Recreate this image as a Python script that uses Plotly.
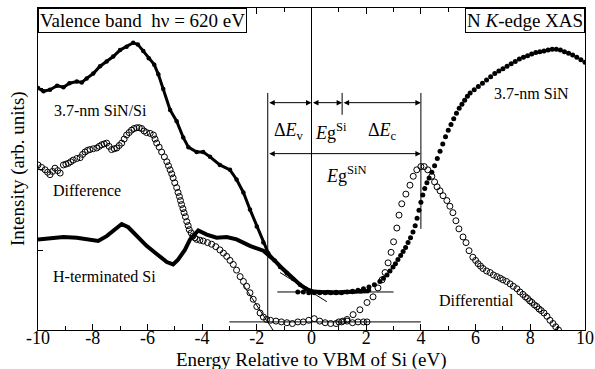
import plotly.graph_objects as go

FONT = "Liberation Serif, Times New Roman, serif"

# ---- Valence band: 3.7-nm SiN/Si (filled dots) ----
vb_sin_x = [-10, -9.8, -9.56, -9.3, -9.07, -8.85, -8.58, -8.4, -8.22, -7.98, -7.73, -7.49, -7.25, -7.0,
            -6.76, -6.52, -6.35, -6.15, -5.95, -5.75, -5.6, -5.42, -5.17, -4.93, -4.69, -4.5, -4.2, -3.96,
            -3.71, -3.35, -2.98, -2.74, -2.49, -2.25, -2.0, -1.76, -1.58, -1.35, -1.15, -0.9, -0.67, -0.42,
            -0.2, 0.0, 0.3, 0.6, 0.9, 1.2, 1.5, 1.8, 2.1]
vb_sin_y = [3.01, 2.97, 2.99, 3.04, 3.02, 3.07, 3.09, 3.08, 3.13, 3.19, 3.28, 3.34, 3.40, 3.48,
            3.52, 3.57, 3.55, 3.47, 3.38, 3.30, 3.18, 3.00, 2.74, 2.60, 2.40, 2.28, 2.22, 2.22,
            2.16, 2.06, 2.00, 1.88, 1.72, 1.51, 1.30, 1.10, 0.97, 0.88, 0.80, 0.72, 0.65, 0.58,
            0.53, 0.50, 0.49, 0.49, 0.49, 0.49, 0.49, 0.50, 0.51]

# ---- Valence band: H-terminated Si ----
vb_hsi_x = [-10, -9.56, -9.07, -8.58, -8.1, -7.8, -7.49, -7.18, -6.94, -6.7, -6.39, -6.03, -5.66, -5.29,
            -5.06, -4.88, -4.63, -4.44, -4.14, -3.83, -3.47, -3.1, -2.74, -2.25, -1.76, -1.58, -1.35,
            -1.15, -0.9, -0.67, -0.42, -0.2, 0.0, 0.3, 0.6, 0.9, 1.2, 1.5, 1.8, 2.1]
vb_hsi_y = [1.14, 1.16, 1.17, 1.16, 1.14, 1.12, 1.18, 1.26, 1.33, 1.29, 1.18, 1.06, 0.96, 0.86,
            0.83, 0.89, 1.01, 1.14, 1.25, 1.20, 1.16, 1.17, 1.14, 1.06, 1.00, 0.95, 0.88,
            0.81, 0.73, 0.66, 0.58, 0.53, 0.50, 0.49, 0.48, 0.48, 0.49, 0.49, 0.49, 0.50]

# ---- Difference spectrum (open circles) ----
diff_x = [-10.0, -9.87, -9.74, -9.65, -9.56, -9.47, -9.38, -9.28, -9.19, -9.07, -8.98, -8.89, -8.8, -8.71,
          -8.58, -8.46, -8.37, -8.28, -8.19, -8.1, -7.98, -7.85, -7.76, -7.67, -7.58, -7.49, -7.4, -7.31,
          -7.21, -7.12, -7.03, -6.94, -6.85, -6.76, -6.67, -6.58, -6.49, -6.39, -6.3, -6.21, -6.12, -6.03,
          -5.9, -5.78, -5.72, -5.66, -5.57, -5.48, -5.38, -5.29, -5.23, -5.17, -5.11, -5.06, -5.0, -4.93,
          -4.88, -4.83, -4.79, -4.75, -4.7, -4.66, -4.61, -4.56, -4.51, -4.47, -4.4, -4.34, -4.27, -4.2,
          -4.08, -3.96, -3.8, -3.65, -3.5, -3.35, -3.22, -3.1, -2.98, -2.86, -2.74, -2.61, -2.49, -2.37,
          -2.25, -2.13, -2.0, -1.88, -1.76, -1.64, -1.5, -1.3, -1.1, -0.9, -0.7, -0.5, -0.3, -0.1,
          0.1, 0.3, 0.5, 0.7, 0.9, 1.1, 1.3, 1.5, 1.7, 1.9, 2.03]
diff_y = [2.06, 2.03, 2.00, 1.97, 1.94, 1.98, 2.02, 1.99, 1.96, 2.06, 2.07, 2.08, 2.10, 2.12,
          2.14, 2.15, 2.19, 2.22, 2.24, 2.25, 2.26, 2.27, 2.29, 2.31, 2.32, 2.33, 2.29, 2.25,
          2.26, 2.27, 2.30, 2.33, 2.38, 2.43, 2.46, 2.49, 2.51, 2.52, 2.52, 2.51, 2.48, 2.46,
          2.45, 2.43, 2.38, 2.33, 2.28, 2.22, 2.16, 2.10, 2.05, 2.00, 1.95, 1.90, 1.84, 1.78,
          1.72, 1.67, 1.62, 1.57, 1.52, 1.47, 1.42, 1.36, 1.31, 1.26, 1.22, 1.18, 1.16, 1.14,
          1.13, 1.12, 1.10, 1.08, 1.05, 1.01, 0.97, 0.93, 0.88, 0.83, 0.76, 0.68, 0.62, 0.56,
          0.48, 0.40, 0.31, 0.23, 0.18, 0.15, 0.14, 0.13, 0.12, 0.11, 0.10, 0.12, 0.12, 0.14,
          0.16, 0.13, 0.11, 0.10, 0.10, 0.12, 0.13, 0.11, 0.12, 0.12, 0.12]

# ---- N K-edge XAS: 3.7-nm SiN (filled dots) ----
xas_x = [-0.5, -0.3, -0.1, 0.1, 0.3, 0.5, 0.7, 0.9, 1.1, 1.3, 1.5, 1.7, 1.9, 2.1, 2.3, 2.5, 2.63, 2.76,
         2.87, 2.98, 3.07, 3.16, 3.26, 3.35, 3.44, 3.53, 3.62, 3.71, 3.79, 3.86, 3.93, 4.0, 4.07, 4.14,
         4.22, 4.3, 4.4, 4.5, 4.6, 4.7, 4.8, 4.9, 5.0, 5.1, 5.2, 5.3, 5.4, 5.5, 5.6, 5.7, 5.8, 5.95,
         6.1, 6.25, 6.4, 6.55, 6.7, 6.85, 7.0, 7.15, 7.3, 7.45, 7.6, 7.75, 7.9, 8.05, 8.2, 8.35, 8.5,
         8.65, 8.8, 8.95, 9.1, 9.25, 9.4, 9.55, 9.7, 9.85, 10.0]
xas_y = [0.49, 0.49, 0.48, 0.48, 0.48, 0.48, 0.48, 0.48, 0.48, 0.49, 0.50, 0.51, 0.53, 0.55, 0.58, 0.62,
         0.66, 0.70, 0.75, 0.80, 0.84, 0.89, 0.94, 0.99, 1.04, 1.10, 1.16, 1.23, 1.31, 1.40, 1.50, 1.60,
         1.69, 1.77, 1.84, 1.90, 1.97, 2.05, 2.14, 2.23, 2.32, 2.41, 2.49, 2.56, 2.63, 2.70, 2.76, 2.81,
         2.86, 2.91, 2.95, 2.99, 3.03, 3.07, 3.11, 3.15, 3.19, 3.22, 3.25, 3.28, 3.31, 3.34, 3.37, 3.39,
         3.41, 3.43, 3.45, 3.46, 3.47, 3.48, 3.49, 3.49, 3.48, 3.46, 3.44, 3.42, 3.39, 3.36, 3.33]

# ---- Differential of XAS (open circles) ----
dxas_x = [1.0, 1.15, 1.3, 1.52, 1.77, 2.03, 2.25, 2.43, 2.58, 2.69, 2.8, 2.91, 3.0, 3.12, 3.2, 3.3,
          3.45, 3.6, 3.72, 3.85, 4.0, 4.12, 4.25, 4.4, 4.5, 4.59, 4.7, 4.81, 4.95, 5.06, 5.17, 5.28,
          5.39, 5.54, 5.65, 5.76, 5.9, 6.0, 6.09, 6.18, 6.27, 6.4, 6.53, 6.65, 6.78, 6.9, 7.0, 7.13,
          7.26, 7.38, 7.51, 7.62, 7.73, 7.82, 7.9, 7.98, 8.06, 8.15, 8.24, 8.32, 8.4, 8.5, 8.61, 8.72,
          8.83, 8.93, 9.03]
dxas_y = [0.12, 0.13, 0.15, 0.21, 0.27, 0.36, 0.43, 0.54, 0.64, 0.73, 0.85, 0.98, 1.11, 1.28, 1.44, 1.58,
          1.70, 1.81, 1.92, 2.00, 2.04, 2.04, 2.00, 1.92, 1.85, 1.79, 1.74, 1.68, 1.62, 1.55, 1.47, 1.37,
          1.27, 1.17, 1.10, 1.00, 0.92, 0.88, 0.84, 0.81, 0.78, 0.75, 0.73, 0.70, 0.68, 0.66, 0.64, 0.62,
          0.59, 0.56, 0.53, 0.49, 0.46, 0.43, 0.41, 0.38, 0.36, 0.33, 0.31, 0.28, 0.26, 0.23, 0.19, 0.14,
          0.10, 0.06, 0.02]

# ---- Band-edge construction ----
upper_base_x = [-1.25, 3.0]
upper_base_y = [0.49, 0.49]
lower_base_x = [-3.0, 4.0]
lower_base_y = [0.12, 0.12]
tangent_si_x = [-1.15, 0.56]
tangent_si_y = [0.73, 0.37]
tangent_sin_x = [-2.5, -1.37]
tangent_sin_y = [0.58, 0.0]

E_vbm_sin, E_vbm_si, E_cbm_si, E_cbm_sin = -1.6, 0.0, 1.12, 4.0
arrow_row1_y = 2.83
arrow_row2_y = 2.20
vline_top = 2.95

x_ticks = [-10, -8, -6, -4, -2, 0, 2, 4, 6, 8, 10]

fig = go.Figure()

fig.add_trace(go.Scatter(x=diff_x, y=diff_y, mode="markers",
                         marker=dict(symbol="circle-open", size=6, color="black", line=dict(width=1)),
                         showlegend=False))
fig.add_trace(go.Scatter(x=dxas_x, y=dxas_y, mode="markers",
                         marker=dict(symbol="circle-open", size=6, color="black", line=dict(width=1)),
                         showlegend=False))
fig.add_trace(go.Scatter(x=vb_hsi_x, y=vb_hsi_y, mode="lines",
                         line=dict(color="black", width=4), showlegend=False))
fig.add_trace(go.Scatter(x=vb_sin_x, y=vb_sin_y, mode="lines+markers",
                         line=dict(color="black", width=3), marker=dict(size=4.5, color="black"),
                         showlegend=False))
fig.add_trace(go.Scatter(x=xas_x, y=xas_y, mode="markers",
                         marker=dict(size=5, color="black"), showlegend=False))

# construction lines
for lx, ly in [(upper_base_x, upper_base_y), (lower_base_x, lower_base_y),
               (tangent_si_x, tangent_si_y), (tangent_sin_x, tangent_sin_y)]:
    fig.add_trace(go.Scatter(x=lx, y=ly, mode="lines", line=dict(color="black", width=1),
                             showlegend=False))

# vertical lines
vlines = [(E_vbm_sin, lower_base_y[0], vline_top), (E_vbm_si, 0, 4.0),
          (E_cbm_si, 2.68, vline_top), (E_cbm_sin, 1.27, vline_top)]
for vx, y0, y1 in vlines:
    fig.add_shape(type="line", x0=vx, x1=vx, y0=y0, y1=y1, xref="x", yref="y",
                  line=dict(color="black", width=1))

annos = []
# double-headed arrows
for (xa, xb, yy) in [(E_vbm_sin, E_vbm_si, arrow_row1_y), (E_vbm_si, E_cbm_si, arrow_row1_y),
                     (E_cbm_si, E_cbm_sin, arrow_row1_y), (E_vbm_sin, E_cbm_sin, arrow_row2_y)]:
    annos.append(dict(x=xb, y=yy, ax=xa, ay=yy, xref="x", yref="y", axref="x", ayref="y",
                      text="", showarrow=True, arrowhead=2, arrowside="end+start",
                      arrowsize=1.1, arrowwidth=1, arrowcolor="black", standoff=0, startstandoff=0))

lab_font = dict(family=FONT, size=18, color="black")
annos += [
    dict(x=-0.82, y=2.47, text="Δ<i>E</i><sub>v</sub>", showarrow=False, font=lab_font),
    dict(x=0.72, y=2.47, text="<i>E</i>g<sup>Si</sup>", showarrow=False, font=lab_font),
    dict(x=2.58, y=2.47, text="Δ<i>E</i><sub>c</sub>", showarrow=False, font=lab_font),
    dict(x=1.28, y=1.94, text="<i>E</i>g<sup>SiN</sup>", showarrow=False, font=lab_font),
]
small = dict(family=FONT, size=16, color="black")
annos += [
    dict(x=-9.5, y=2.73, text="3.7-nm SiN/Si", xanchor="left", showarrow=False, font=small),
    dict(x=-9.54, y=1.74, text="Difference", xanchor="left", showarrow=False, font=small),
    dict(x=-9.54, y=0.68, text="H-terminated Si", xanchor="left", showarrow=False, font=small),
    dict(x=6.6, y=2.94, text="3.7-nm SiN", xanchor="left", showarrow=False, font=small),
    dict(x=4.59, y=0.38, text="Differential", xanchor="left", showarrow=False, font=small),
]
box_font = dict(family=FONT, size=19, color="black")
annos += [
    dict(x=0, y=1, xref="paper", yref="paper", xanchor="left", yanchor="top",
         text="Valence band\u00a0 hν = 620 eV", showarrow=False, font=box_font,
         bordercolor="black", borderwidth=1, borderpad=1, bgcolor="white"),
    dict(x=1, y=1, xref="paper", yref="paper", xanchor="right", yanchor="top",
         text="N <i>K</i>-edge XAS", showarrow=False, font=box_font,
         bordercolor="black", borderwidth=1, borderpad=1, bgcolor="white"),
]
# axis titles
annos += [
    dict(x=0.5, y=0, xref="paper", yref="paper", xanchor="center", yanchor="top", yshift=-17,
         text="Energy Relative to VBM of Si (eV)", showarrow=False,
         font=dict(family=FONT, size=19, color="black")),
    dict(x=0, y=0.5, xref="paper", yref="paper", xanchor="center", yanchor="middle", xshift=-20,
         text="Intensity (arb. units)", textangle=-90, showarrow=False,
         font=dict(family=FONT, size=19, color="black")),
]

fig.update_layout(
    width=595, height=369,
    margin=dict(l=38, r=10, t=8, b=39),
    paper_bgcolor="white", plot_bgcolor="white",
    font=dict(family=FONT, size=18, color="black"),
    annotations=annos,
    xaxis=dict(range=[-10, 10], tickvals=x_ticks, ticktext=[str(v) for v in x_ticks],
               ticks="inside", ticklen=6, tickcolor="black", tickwidth=1,
               minor=dict(dtick=1, ticks="inside", ticklen=4, tickcolor="black"),
               showline=True, linecolor="black", linewidth=1, mirror="ticks",
               showgrid=False, zeroline=False, automargin=False, ticklabelstandoff=-9,
               tickfont=dict(family=FONT, size=18)),
    yaxis=dict(range=[0.02, 4.0], tickvals=[1, 2, 3], showticklabels=False,
               ticks="inside", ticklen=5, tickcolor="black",
               showline=True, linecolor="black", linewidth=1, mirror=True,
               showgrid=False, zeroline=False, automargin=False),
)

fig.write_html("out.html", config={"displayModeBar": False},
               post_script="document.body.style.margin='0';document.body.style.padding='0';")
